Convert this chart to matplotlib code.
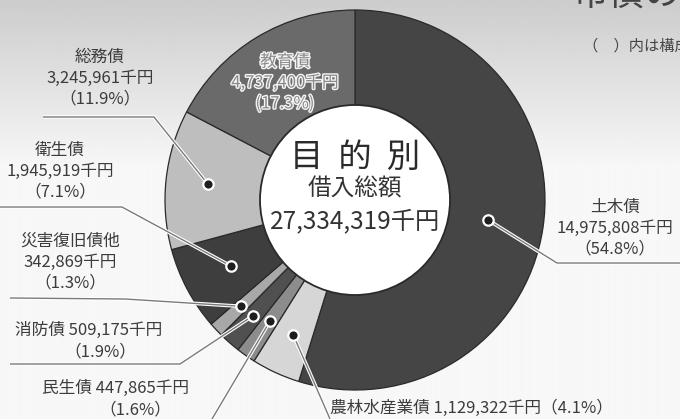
import numpy as np
import matplotlib
matplotlib.use("Agg")
import matplotlib.pyplot as plt
from matplotlib.patches import Circle
import matplotlib.patheffects as pe

plt.rcParams['font.family'] = ['Noto Sans CJK JP', 'DejaVu Sans']

# データ（時計回り、上から）
categories = ['土木債', '農林水産業債', '民生債', '消防債', '災害復旧債他', '衛生債', '総務債', '教育債']
amounts = [14975808, 1129322, 447865, 509175, 342869, 1945919, 3245961, 4737400]
percents = [54.8, 4.1, 1.6, 1.9, 1.3, 7.1, 11.9, 17.3]
total = 27334319

colors = ['#454545', '#d6d6d6', '#8c8c8c', '#505050', '#a8a8a8', '#3e3e3e', '#bebebe', '#6a6a6a']

W, H = 680, 419
cx, cy, R, r_in = 355, 200, 190, 95

fig = plt.figure(figsize=(W / 100, H / 100), dpi=100)
ax = fig.add_axes([0, 0, 1, 1])

# 背景（スキャンした紙面の陰影）
grad = np.concatenate([np.linspace(0.80, 0.97, 170), np.full(250, 0.97)]).reshape(-1, 1)
ax.imshow(np.hstack([grad] * 2), cmap='gray', vmin=0, vmax=1, extent=[0, W, H, 0],
          aspect='auto', zorder=0)

wedges, _ = ax.pie(amounts, colors=colors, startangle=-90, counterclock=True,
                   center=(cx, cy), radius=R,
                   wedgeprops=dict(edgecolor='#2a2a2a', linewidth=0.9))
for w in wedges:
    w.set_zorder(2)
ax.add_patch(Circle((cx, cy), r_in, facecolor='white', edgecolor='#2a2a2a', lw=1.3, zorder=3))

ax.set_xlim(0, W)
ax.set_ylim(H, 0)
ax.set_aspect('equal')
ax.axis('off')

# 各項目の点の位置（中心角）
frac = np.array(amounts) / sum(amounts)
cum = np.cumsum(frac) - frac / 2
mid = np.deg2rad(-90 + cum * 360)
dot_r = [0.71, 0.78, 0.78, 0.81, 0.82, 0.74, 0.78, 0.78]
dots = [(cx + R * f * np.cos(a), cy + R * f * np.sin(a)) for f, a in zip(dot_r, mid)]

# 引出線の折れ点
leaders = {
    '土木債': [(557, 263), (680, 263)],
    '農林水産業債': [(330, 419)],
    '民生債': [(212, 419)],
    '消防債': [(180, 364), (10, 364)],
    '災害復旧債他': [(125, 299), (10, 298)],
    '衛生債': [(122, 207), (0, 207)],
    '総務債': [(154, 117), (43, 117)],
}
for i, name in enumerate(categories):
    if name not in leaders:
        continue
    pts = [dots[i]] + leaders[name]
    xs, ys = zip(*pts)
    ax.plot(xs, ys, color='white', lw=2.6, zorder=4, solid_capstyle='butt')
    ax.plot(xs, ys, color='#7a7a7a', lw=1.0, zorder=5, solid_capstyle='butt')
    ax.plot(*dots[i], 'o', ms=7.5, mfc='#1e1e1e', mec='white', mew=1.6, zorder=6)

tc = '#3c3c3c'
fs = 12
lab = {n: (f"{a:,}千円", f"（{p}%）") for n, a, p in zip(categories, amounts, percents)}

def block(x, y, name, size=fs):
    ax.text(x, y, name + "\n" + lab[name][0] + "\n" + lab[name][1], ha='center', va='center',
            fontsize=size, color=tc, linespacing=1.3, zorder=7)

block(100, 78, '総務債')
block(60, 171, '衛生債')
block(70, 262, '災害復旧債他')
block(615, 228, '土木債')

ax.text(15, 330, '消防債 ' + lab['消防債'][0], ha='left', va='center', fontsize=fs, color=tc, zorder=7)
ax.text(100, 352, lab['消防債'][1], ha='center', va='center', fontsize=fs, color=tc, zorder=7)
ax.text(42, 388, '民生債 ' + lab['民生債'][0], ha='left', va='center', fontsize=fs, color=tc, zorder=7)
ax.text(135, 410, lab['民生債'][1], ha='center', va='center', fontsize=fs, color=tc, zorder=7)
ax.text(330, 408, '農林水産業債 ' + lab['農林水産業債'][0] + lab['農林水産業債'][1],
        ha='left', va='center', fontsize=fs, color=tc, zorder=7)

# 教育債（白抜き文字）
ax.text(285, 83, '教育債\n' + lab['教育債'][0] + '\n' + lab['教育債'][1].replace('（', '(').replace('）', ')'),
        ha='center', va='center', fontsize=fs, color='#8a8a8a', linespacing=1.3, zorder=7,
        path_effects=[pe.Stroke(linewidth=2.0, foreground='#f4f4f4'), pe.Normal()])

# 中央
ax.text(cx, 157, '目  的  別', ha='center', va='center', fontsize=24, color='#2a2a2a', zorder=7)
ax.text(cx, 189, '借入総額', ha='center', va='center', fontsize=17, color='#333333', zorder=7)
ax.text(cx, 221, f'{total:,}千円', ha='center', va='center', fontsize=17.5, color='#333333', zorder=7)

# 切れた見出し
ax.text(572, 14, '市債の内訳', ha='left', va='bottom', fontsize=26, color='#444444', zorder=7)
ax.text(583, 46, '（　）内は構成比', ha='left', va='center', fontsize=11, color='#444444', zorder=7)

fig.savefig('out.png', dpi=100)
